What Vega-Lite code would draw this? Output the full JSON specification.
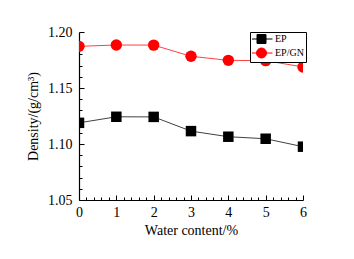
{
  "$schema": "https://vega.github.io/schema/vega-lite/v6.json",
  "width": 224,
  "height": 168,
  "autosize": "none",
  "padding": {"left": 79, "top": 32, "right": 51, "bottom": 59},
  "background": "white",
  "config": {"view": {"stroke": null}, "font": "Liberation Serif"},
  "data": {"values": [
    {"w": 0, "d": 1.1189, "s": "EP"},
    {"w": 1, "d": 1.1243, "s": "EP"},
    {"w": 2, "d": 1.1242, "s": "EP"},
    {"w": 3, "d": 1.1115, "s": "EP"},
    {"w": 4, "d": 1.1065, "s": "EP"},
    {"w": 5, "d": 1.1047, "s": "EP"},
    {"w": 6, "d": 1.0976, "s": "EP"},
    {"w": 0, "d": 1.1872, "s": "EP/GN"},
    {"w": 1, "d": 1.1884, "s": "EP/GN"},
    {"w": 2, "d": 1.1883, "s": "EP/GN"},
    {"w": 3, "d": 1.1783, "s": "EP/GN"},
    {"w": 4, "d": 1.1747, "s": "EP/GN"},
    {"w": 5, "d": 1.1744, "s": "EP/GN"},
    {"w": 6, "d": 1.1688, "s": "EP/GN"}
  ]},
  "encoding": {
    "x": {"field": "w", "type": "quantitative",
      "scale": {"domain": [0, 6], "nice": false, "zero": false},
      "axis": {
        "title": "Water content/%", "titleFont": "Liberation Serif", "titleFontSize": 14, "titleFontWeight": "normal", "titleColor": "black", "titlePadding": 2,
        "values": [0,0.2,0.4,0.6,0.8,1,1.2,1.4,1.6,1.8,2,2.2,2.4,2.6,2.8,3,3.2,3.4,3.6,3.8,4,4.2,4.4,4.6,4.8,5,5.2,5.4,5.6,5.8,6],
        "labelExpr": "abs(datum.value - round(datum.value)) < 1e-6 ? format(datum.value, 'd') : ''",
        "labelOverlap": false, "labelFlush": false, "labelFont": "Liberation Serif",
        "labelFontSize": 14, "labelColor": "black", "labelPadding": 10,
        "tickSize": {"condition": {"test": "abs(datum.value - round(datum.value)) < 1e-6", "value": -5}, "value": -3},
        "tickColor": "black", "tickWidth": 1,
        "domainColor": "black", "domainWidth": 1.2, "grid": false
      }},
    "y": {"field": "d", "type": "quantitative",
      "scale": {"domain": [1.05, 1.2], "nice": false, "zero": false},
      "axis": {
        "title": "Density/(g/cm³)", "titleFont": "Liberation Serif", "titleFontSize": 14, "titleFontWeight": "normal", "titleColor": "black", "titlePadding": 7,
        "values": [1.05,1.06,1.07,1.08,1.09,1.1,1.11,1.12,1.13,1.14,1.15,1.16,1.17,1.18,1.19,1.2],
        "labelExpr": "abs(datum.value*20 - round(datum.value*20)) < 1e-6 ? format(datum.value, '.2f') : ''",
        "labelOverlap": false, "labelFlush": false, "labelFont": "Liberation Serif",
        "labelFontSize": 14, "labelColor": "black", "labelPadding": 12,
        "tickSize": {"condition": {"test": "abs(datum.value*20 - round(datum.value*20)) < 1e-6", "value": -5}, "value": -3},
        "tickColor": "black", "tickWidth": 1,
        "domainColor": "black", "domainWidth": 1.2, "grid": false
      }},
    "color": {"field": "s", "type": "nominal", "scale": {"domain": ["EP", "EP/GN"], "range": ["#000000", "#ff0000"]},
      "legend": {
        "title": null, "orient": "none", "legendX": 171, "legendY": 0,
        "strokeColor": "black", "fillColor": "white", "padding": 2, "rowPadding": 0,
        "labelFont": "Liberation Serif",
        "labelFontSize": 10, "labelColor": "black", "labelOffset": 13, "symbolSize": 64,
        "symbolStrokeWidth": 1,
        "encode": {"symbols": {"update": {
          "shape": {"signal": "datum.value === 'EP' ? 'M-1.25,0H3.875M0,-1.125H2.25V1.125H0Z' : 'M-1.25,0H3.875M-0.125,0A1.25,1.25 0 1,1 2.375,0A1.25,1.25 0 1,1 -0.125,0Z'"},
          "size": {"value": 64},
          "fill": {"signal": "datum.value === 'EP' ? '#000000' : '#ff0000'"},
          "stroke": {"signal": "datum.value === 'EP' ? '#000000' : '#ff0000'"},
          "strokeWidth": {"value": 1},
          "opacity": {"value": 1},
          "fillOpacity": {"value": 1},
          "strokeOpacity": {"value": 1}
        }}}
      }}
  },
  "layer": [
    {
      "mark": {"type": "line", "strokeWidth": 1, "strokeOpacity": 0.75, "clip": true}
    },
    {
      "transform": [{"filter": "datum.s === 'EP'"}],
      "mark": {"type": "point", "shape": "square", "filled": true, "opacity": 1, "size": 110, "clip": true}
    },
    {
      "transform": [{"filter": "datum.s === 'EP/GN'"}],
      "mark": {"type": "point", "shape": "circle", "filled": true, "opacity": 1, "size": 130, "clip": true}
    }
  ]
}
